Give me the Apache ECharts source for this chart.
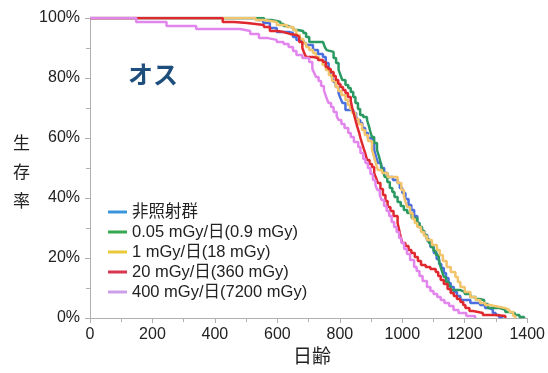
<!DOCTYPE html>
<html><head><meta charset="utf-8">
<script src="https://cdn.jsdelivr.net/npm/echarts@6/dist/echarts.min.js"></script>
<style>html,body{margin:0;padding:0;background:#fff}#c{width:548px;height:373px}</style>
</head><body><div id="c"></div>
<script>
var seriesNames = ['非照射群', '0.05 mGy/日(0.9 mGy)', '1 mGy/日(18 mGy)', '20 mGy/日(360 mGy)', '400 mGy/日(7200 mGy)'];
var lineColors = ['#4a6fe0', '#2a9a62', '#f2c46c', '#e0282f', '#e286ee'];
var legendColors = ['#3a96dc', '#35a84f', '#e8c93a', '#d8354f', '#cc9ee8'];
var xTicks = [0, 200, 400, 600, 800, 1000, 1200, 1400];
var yTicks = [0, 20, 40, 60, 80, 100];

// [day, survival %]
var control = [[0,100],[535,99.3],[555,98.3],[576,96.7],[598,95.3],[639,95],[650,93.7],[661,92.7],[683,91.7],[692,91],[714,89.3],[730,88],[746,87],[755,85],[764,83.7],[770,82],[775,80.3],[780,78.7],[787,77],[796,75],[802,73.3],[808,71.7],[818,69.3],[843,68.3],[852,67],[858,66],[865,65],[872,63.3],[881,61.7],[890,60],[903,58.3],[910,56],[916,53.7],[922,51.7],[932,50],[942,48.3],[953,47],[970,46],[985,45],[992,43.3],[1000,41.7],[1010,39.7],[1020,37.7],[1029,36],[1038,34],[1048,31.7],[1055,30.3],[1063,29],[1070,27.7],[1080,25.7],[1090,23.7],[1101,21.7],[1110,19.7],[1118,18],[1125,16.7],[1133,15],[1140,13.3],[1148,11.7],[1155,10.3],[1165,8.7],[1175,7.3],[1186,6],[1218,5],[1249,4.3],[1265,3.3],[1280,2.7],[1290,1.7],[1299,1],[1310,0.3],[1320,0]];
var dose005 = [[0,100],[557,99.3],[580,99],[598,98.7],[610,98],[620,97.3],[635,96.7],[651,96],[665,95.7],[683,95],[692,93.7],[702,92],[746,91.7],[752,90.3],[758,89.3],[764,88.7],[780,86.7],[788,85],[796,82.7],[802,81],[808,79.3],[818,77.7],[827,76.7],[835,75.3],[843,73.7],[850,71.7],[858,69.7],[865,67.7],[875,67],[887,66],[893,64],[898,62],[903,60.3],[910,58.3],[919,56],[925,54],[930,52],[934,50.3],[940,48.3],[944,47],[952,45.3],[960,43.3],[968,42],[975,40.3],[985,38.7],[995,37.3],[1005,36],[1016,35],[1030,33.3],[1048,31.7],[1055,30.3],[1063,29],[1070,27.7],[1078,26.3],[1085,25],[1092,23.7],[1100,22.3],[1108,21],[1117,19.3],[1122,17.3],[1128,15.3],[1133,13.7],[1140,12],[1148,10.7],[1155,9.3],[1186,8.7],[1200,8],[1218,7],[1235,6.3],[1249,6],[1262,4.7],[1274,3.3],[1312,2.7],[1330,2],[1343,1.7],[1360,1],[1375,0.3],[1390,0]];
var dose1 = [[0,100],[530,99.3],[557,98.7],[598,97.7],[630,97],[651,96],[661,94.3],[672,93],[683,91.7],[692,90.3],[702,89.3],[714,88.3],[723,87],[733,86],[745,84.3],[755,82.7],[765,81],[775,79],[787,77],[795,75.7],[805,74.3],[818,72.7],[826,71],[833,69.7],[840,68.3],[850,66.3],[860,64.7],[871,62.7],[880,61],[890,59],[903,56],[908,54.3],[912,52.7],[917,51],[922,49.3],[935,48.3],[953,47],[975,47],[985,45],[997,42.7],[1005,40.7],[1010,38.7],[1016,37],[1025,35],[1033,33],[1040,31.7],[1048,30.3],[1060,28.7],[1070,27.3],[1079,26],[1095,24.3],[1111,22.7],[1120,21],[1130,19],[1142,17],[1155,15.3],[1170,13.7],[1178,12],[1186,10.3],[1200,8.7],[1218,7],[1235,6],[1249,5],[1265,4.3],[1280,3.7],[1312,3.3],[1330,2.7],[1343,2],[1355,0.7],[1362,0]];
var dose20 = [[0,100],[425,98.7],[462,98.3],[503,97.7],[557,97],[576,95.7],[600,95.3],[620,94.7],[640,94.3],[661,93.7],[670,92],[680,90],[686,88.3],[692,87],[714,86.7],[730,86],[746,85.3],[755,83.7],[763,83],[771,82],[780,80.7],[787,79.3],[795,78],[802,77],[810,76],[818,75],[826,73.7],[835,72.3],[840,70],[845,68],[850,66],[856,63.7],[862,61.7],[866,60],[871,58.3],[877,56.3],[882,54.7],[887,52.7],[895,51.3],[903,50.3],[910,48.3],[916,46.7],[922,45],[930,43],[938,41],[946,39],[953,37],[962,35.7],[972,34],[985,31.7],[990,29.3],[995,27],[1000,25],[1010,24],[1020,22.7],[1029,21.7],[1040,20.3],[1050,19],[1060,17.7],[1075,17],[1090,16.3],[1107,15.3],[1115,14],[1123,12.7],[1133,11.3],[1145,9.7],[1155,8.3],[1165,7.3],[1175,6.3],[1186,5.3],[1195,4.3],[1202,3.3],[1215,2.3],[1227,1.7],[1258,1],[1300,0.7],[1330,0]];
var dose400 = [[0,100],[148,98.7],[245,97.3],[340,96.3],[481,95.7],[513,94.7],[541,93.3],[570,92.7],[598,92],[620,91.3],[636,90.3],[650,89],[661,87.7],[680,86.7],[702,85.3],[712,83],[718,81.7],[724,80.3],[732,79],[740,77.3],[749,76],[755,74],[760,72.7],[764,71.7],[772,70.3],[780,68.7],[790,67.3],[796,66],[805,64.7],[815,63.3],[827,61.7],[835,60.3],[845,58.7],[859,57],[866,55],[875,53],[882,51.7],[890,50],[898,48],[906,46],[914,44.3],[920,42.7],[928,41],[934,39.3],[942,37.3],[950,35.7],[958,34],[966,32],[974,30.3],[982,28.7],[990,26.7],[997,25],[1006,23],[1015,21.3],[1025,19.3],[1038,17],[1046,15.7],[1055,14],[1065,12.3],[1079,10.3],[1090,9],[1100,8],[1112,7],[1123,6],[1135,5],[1150,4],[1164,2.7],[1180,1.7],[1205,0.7],[1233,0]];

var allData = [control, dose005, dose1, dose20, dose400];
var FONT = '"Liberation Sans", "Noto Sans CJK JP", sans-serif';

var chart = echarts.init(document.getElementById('c'), null, {renderer: 'canvas'});
chart.setOption({
  animation: false,
  backgroundColor: '#fff',
  textStyle: {fontFamily: FONT},
  grid: {left: 90, right: 13, top: 18, bottom: 55},
  xAxis: {
    type: 'value', min: xTicks[0], max: xTicks[xTicks.length - 1], interval: 200,
    axisLine: {show: true, lineStyle: {color: '#b0b0b0', width: 1}},
    axisTick: {show: true, length: 5, lineStyle: {color: '#b0b0b0'}},
    minorTick: {show: true, splitNumber: 2, length: 4, lineStyle: {color: '#b0b0b0'}},
    splitLine: {show: false},
    axisLabel: {color: '#222', fontSize: 16, margin: 9, fontFamily: FONT,
      formatter: function (v) { return String(v); }}
  },
  yAxis: {
    type: 'value', min: yTicks[0], max: yTicks[yTicks.length - 1], interval: 20,
    axisLine: {show: true, lineStyle: {color: '#b0b0b0', width: 1}},
    axisTick: {show: true, length: 5, lineStyle: {color: '#b0b0b0'}},
    minorTick: {show: true, splitNumber: 2, length: 4, lineStyle: {color: '#b0b0b0'}},
    splitLine: {show: false},
    axisLabel: {color: '#222', fontSize: 16, margin: 10, fontFamily: FONT,
      formatter: function (v) { return v + '%'; }}
  },
  legend: {
    orient: 'vertical', left: 108, top: 202, padding: 0, itemWidth: 19, itemHeight: 3, itemGap: 0,
    icon: 'rect',
    textStyle: {color: '#222', fontSize: 16.5, lineHeight: 20, fontFamily: FONT},
    data: seriesNames.map(function (n, i) { return {name: n, itemStyle: {color: legendColors[i]}}; })
  },
  graphic: [
    {type: 'text', left: 128, top: 62, style: {text: 'オス', fill: '#1e4e7c', font: 'bold 25px "Noto Sans CJK JP", sans-serif'}},
    {type: 'text', left: 13, top: 128, style: {text: '生\n存\n率', fill: '#222', font: '17px "Noto Sans CJK JP", sans-serif', lineHeight: 29}},
    {type: 'text', left: 293, top: 346, style: {text: '日齢', fill: '#222', font: '19px "Noto Sans CJK JP", sans-serif'}}
  ],
  series: allData.map(function (d, i) {
    return {
      name: seriesNames[i], type: 'line', step: 'end', data: d,
      showSymbol: false, symbol: 'none',
      lineStyle: {width: 2.5, color: lineColors[i]},
      itemStyle: {color: lineColors[i]}
    };
  })
});
</script></body></html>
